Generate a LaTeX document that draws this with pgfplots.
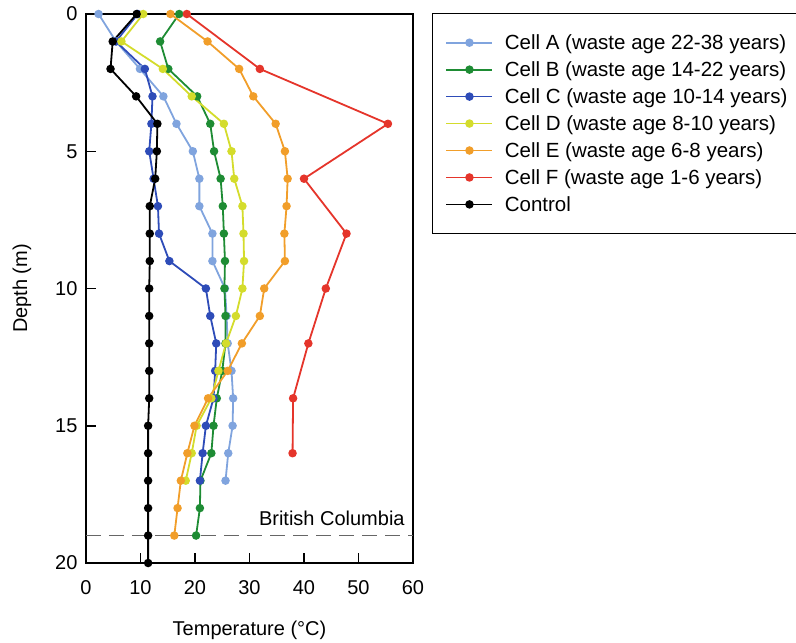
\documentclass[border=0pt]{standalone}
\usepackage{fontspec}
\setmainfont{Liberation Sans}
\usepackage{pgfplots}
\pgfplotsset{compat=1.18}
\definecolor{cA}{HTML}{80A4DE}
\definecolor{cB}{HTML}{1E8C34}
\definecolor{cC}{HTML}{2E4CB8}
\definecolor{cD}{HTML}{D4DC2C}
\definecolor{cE}{HTML}{F19E2A}
\definecolor{cF}{HTML}{E5352B}
\newcommand{\ff}{\fontsize{20}{24}\selectfont}
\newcommand{\fl}{\fontsize{20.5}{24}\selectfont}
\begin{document}
\begin{tikzpicture}
\begin{axis}[
  scale only axis, width=327pt, height=549pt,
  xmin=0, xmax=60, ymin=0, ymax=20, y dir=reverse,
  xtick={0,10,...,60}, ytick={0,5,...,20},
  tick pos=left, tick align=inside, major tick length=10pt,
  axis line style={line width=1.6pt},
  every tick/.style={black, line width=1.5pt},
  /pgf/number format/assume math mode=true,
  tick label style={font=\ff},
  xticklabel style={yshift=-14pt}, yticklabel style={xshift=-5pt},
  xlabel={Temperature (°C)}, ylabel={Depth (m)},
  every axis x label/.style={at={(axis description cs:0.5,-0.122)}, anchor=center, font=\ff},
  every axis y label/.style={at={(axis description cs:-0.196,0.5)}, anchor=center, rotate=90, font=\ff},
  clip=false,
  legend style={at={(axis description cs:1.058,1.002)}, anchor=north west,
    draw=black, line width=1.2pt, inner xsep=13pt, inner ysep=19.5pt,
    row sep=7.6pt, font=\fl, nodes={inner sep=1.5pt},
    /tikz/every odd column/.append style={column sep=10pt}},
  legend cell align=left,
  legend image code/.code={\draw[mark repeat=2,mark phase=2,#1,line width=1.8pt] plot coordinates {(0pt,0pt) (23pt,0pt) (46pt,0pt)};},
  every axis plot/.append style={line width=1.8pt, mark=*, mark size=3.3pt},
]
\addplot[cA, mark options={fill=cA}] coordinates {
(2.3,0) (5.5,1) (9.9,2) (14.2,3) (16.6,4) (19.6,5) (20.8,6) (20.8,7) (23.2,8) (23.2,9)
(25.5,10) (25.8,11) (26.0,12) (26.7,13) (27.0,14) (26.9,15) (26.1,16) (25.6,17)};
\addlegendentry{Cell A (waste age 22-38 years)}
\addplot[cB, mark options={fill=cB}] coordinates {
(17.1,0) (13.6,1) (15.1,2) (20.4,3) (22.8,4) (23.5,5) (24.7,6) (25.1,7) (25.3,8) (25.5,9)
(25.4,10) (25.6,11) (25.6,12) (25.0,13) (24.0,14) (23.4,15) (23.0,16) (21.0,17) (20.9,18) (20.2,19)};
\addlegendentry{Cell B (waste age 14-22 years)}
\addplot[cC, mark options={fill=cC}] coordinates {
(9.5,0) (5.5,1) (10.8,2) (12.2,3) (12.0,4) (11.6,5) (12.4,6) (13.2,7) (13.4,8) (15.3,9)
(22.0,10) (22.8,11) (23.9,12) (23.7,13) (23.4,14) (22.0,15) (21.4,16) (20.9,17)};
\addlegendentry{Cell C (waste age 10-14 years)}
\addplot[cD, mark options={fill=cD}] coordinates {
(10.5,0) (6.5,1) (14.1,2) (19.4,3) (25.3,4) (26.7,5) (27.2,6) (28.7,7) (28.9,8) (29.0,9)
(28.7,10) (27.5,11) (25.7,12) (24.3,13) (23.0,14) (20.3,15) (19.4,16) (18.3,17)};
\addlegendentry{Cell D (waste age 8-10 years)}
\addplot[cE, mark options={fill=cE}] coordinates {
(15.5,0) (22.3,1) (28.1,2) (30.7,3) (34.8,4) (36.5,5) (37.0,6) (36.8,7) (36.4,8) (36.5,9)
(32.7,10) (31.9,11) (28.6,12) (26.0,13) (22.4,14) (19.9,15) (18.6,16) (17.4,17) (16.8,18) (16.2,19)};
\addlegendentry{Cell E (waste age 6-8 years)}
\addplot[cF, mark options={fill=cF}] coordinates {
(18.5,0) (31.9,2) (55.4,4) (40.0,6) (47.8,8) (44.0,10) (40.8,12) (38.0,14) (37.9,16)};
\addlegendentry{Cell F (waste age 1-6 years)}
\addplot[black, mark options={fill=black}] coordinates {
(9.3,0) (4.9,1) (4.5,2) (9.2,3) (13.1,4) (13.0,5) (12.7,6) (11.7,7) (11.7,8) (11.7,9)
(11.6,10) (11.6,11) (11.6,12) (11.6,13) (11.6,14) (11.4,15) (11.4,16) (11.4,17) (11.4,18) (11.4,19) (11.4,20)};
\addlegendentry{Control}
\addplot[forget plot, black!60, line width=1.3pt, mark=none, dash pattern=on 15pt off 8pt] coordinates {(0,19) (60,19)};
\node[anchor=base east, font=\ff, inner sep=0pt] at (axis cs:58.5,18.65) {British Columbia};
\end{axis}
\pgfresetboundingbox
\path (-86pt,-80pt) rectangle (710pt,563pt);
\end{tikzpicture}
\end{document}
